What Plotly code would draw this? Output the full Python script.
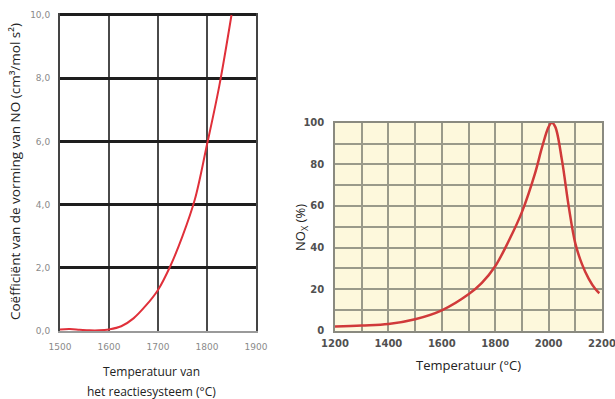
import plotly.graph_objects as go

# Left chart: coefficient of NO formation vs temperature
left_temp = [1500, 1520, 1540, 1560, 1580, 1600, 1625, 1650, 1675, 1700, 1725, 1750, 1775, 1800, 1825, 1850]
left_coef = [0.05, 0.06, 0.04, 0.02, 0.02, 0.05, 0.15, 0.4, 0.8, 1.3, 2.05, 3.0, 4.15, 5.9, 7.75, 10.0]
left_xticks = [1500, 1600, 1700, 1800, 1900]
left_yticks = [0, 2, 4, 6, 8, 10]
left_ytick_labels = ["0,0", "2,0", "4,0", "6,0", "8,0", "10,0"]

# Right chart: NOx (%) vs temperature
right_temp = [1200, 1300, 1400, 1500, 1600, 1700, 1750, 1800, 1850, 1900, 1950, 1975, 2000, 2012, 2025, 2050, 2075, 2100, 2125, 2150, 2175, 2190]
right_nox = [2, 2.5, 3.2, 5.5, 9.8, 17.5, 23, 31, 43, 57, 76, 88, 98, 100, 98, 82, 60, 42, 32, 25, 20, 18]
right_xticks = [1200, 1400, 1600, 1800, 2000, 2200]
right_yticks = [0, 20, 40, 60, 80, 100]

W, H = 615, 399
def px(x0, x1):
    return [x0 / W, x1 / W]
def py(top, bottom):
    return [1 - bottom / H, 1 - top / H]

fig = go.Figure()
fig.add_trace(go.Scatter(x=left_temp, y=left_coef, mode="lines", xaxis="x", yaxis="y",
                         line=dict(color="#e0303a", width=2, shape="spline"), showlegend=False,
                         hoverinfo="skip"))
fig.add_trace(go.Scatter(x=right_temp, y=right_nox, mode="lines", xaxis="x2", yaxis="y2",
                         line=dict(color="#d03a3a", width=2.5, shape="spline"), showlegend=False,
                         hoverinfo="skip"))

tickfont_l = dict(family="DejaVu Sans", size=9, color="#8a8a8a")
tickfont_r = dict(family="DejaVu Sans", size=10, color="#505050", weight="bold")

fig.update_layout(
    width=W, height=H, margin=dict(l=0, r=0, t=0, b=0, autoexpand=False),
    paper_bgcolor="white", plot_bgcolor="white",
    xaxis=dict(domain=px(60, 256), range=[1500, 1900], tickvals=left_xticks,
               showgrid=True, gridcolor="#4a4a4a", gridwidth=2, zeroline=False,
               showline=True, linecolor="#9a9a9a", linewidth=1.5, mirror=False, automargin=False,
               ticks="", tickfont=tickfont_l, anchor="y", ticklabelstandoff=6),
    yaxis=dict(domain=py(13.4, 331), range=[0, 10.05], tickvals=left_yticks, ticktext=left_ytick_labels,
               showgrid=True, gridcolor="#1e1e1e", gridwidth=2.5, zeroline=False,
               showline=True, linecolor="#444444", linewidth=2, mirror=True, automargin=False,
               ticks="", tickfont=tickfont_l, anchor="x", ticklabelstandoff=6),
    xaxis2=dict(domain=px(335, 602), range=[1200, 2200], tickvals=right_xticks,
                showgrid=False, zeroline=False, automargin=False, ticklabeloverflow="allow",
                showline=True, linecolor="#8a8a80", linewidth=1.5, mirror=True,
                ticks="", tickfont=tickfont_r, anchor="y2", ticklabelstandoff=3,
                minor=dict(dtick=100, tick0=1200, showgrid=True, gridcolor="#9a9a8a", gridwidth=1.5)),
    yaxis2=dict(domain=py(122.7, 330.7), range=[0, 100], tickvals=right_yticks,
                showgrid=False, zeroline=False, automargin=False,
                showline=True, linecolor="#8a8a80", linewidth=1.5, mirror=True,
                ticks="", tickfont=tickfont_r, anchor="x2", ticklabelstandoff=7,
                minor=dict(dtick=10, tick0=0, showgrid=True, gridcolor="#9a9a8a", gridwidth=1.5)),
)

# plot background of right chart (cream)
fig.add_shape(type="rect", xref="x2 domain", yref="y2 domain", x0=0, x1=1, y0=0, y1=1,
              fillcolor="#fdf8dc", line=dict(width=0), layer="below")

title_font = dict(family="Open Sans", size=12, color="#222222")
fig.add_annotation(text="Coëfficiënt van de vorming van NO (cm³/mol s²)", textangle=-90,
                   x=15 / W, y=1 - 172 / H, xref="paper", yref="paper", showarrow=False,
                   font=dict(family="Open Sans", size=13.5, color="#222222"),
                   xanchor="center", yanchor="middle")
fig.add_annotation(text="Temperatuur van",
                   x=151 / W, y=1 - 371 / H, xref="paper", yref="paper", showarrow=False,
                   font=title_font, xanchor="center", yanchor="middle")
fig.add_annotation(text="het reactiesysteem (°C)",
                   x=151 / W, y=1 - 391 / H, xref="paper", yref="paper", showarrow=False,
                   font=title_font, xanchor="center", yanchor="middle")
fig.add_annotation(text="NO<sub>X</sub> (%)", textangle=-90,
                   x=301 / W, y=1 - 228 / H, xref="paper", yref="paper", showarrow=False,
                   font=dict(family="Open Sans", size=13, color="#222222"), xanchor="center", yanchor="middle")
fig.add_annotation(text="Temperatuur (°C)",
                   x=468 / W, y=1 - 365 / H, xref="paper", yref="paper", showarrow=False,
                   font=dict(family="Open Sans", size=13, color="#222222"), xanchor="center", yanchor="middle")

fig.write_html("out.html", config={"displayModeBar": False},
               post_script="document.body.style.margin='0px';")
